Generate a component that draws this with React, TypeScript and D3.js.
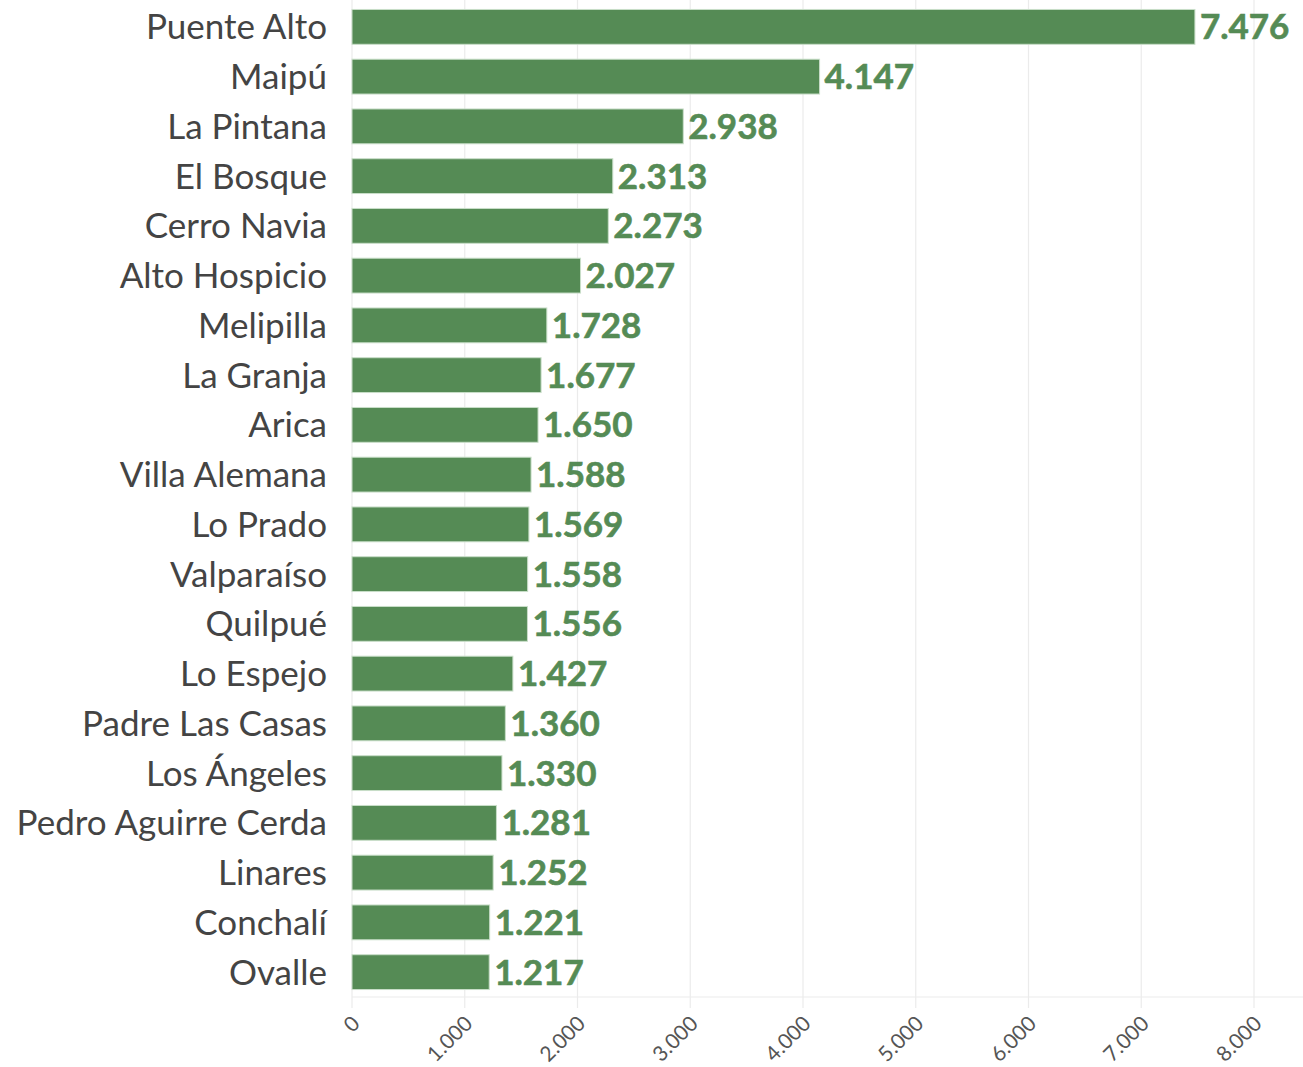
import React from "react";
import * as d3 from "d3";

const categories = [
  "Puente Alto", "Maipú", "La Pintana", "El Bosque", "Cerro Navia", "Alto Hospicio",
  "Melipilla", "La Granja", "Arica", "Villa Alemana", "Lo Prado", "Valparaíso",
  "Quilpué", "Lo Espejo", "Padre Las Casas", "Los Ángeles", "Pedro Aguirre Cerda",
  "Linares", "Conchalí", "Ovalle",
];
const values = [
  7476, 4147, 2938, 2313, 2273, 2027, 1728, 1677, 1650, 1588, 1569, 1558, 1556,
  1427, 1360, 1330, 1281, 1252, 1221, 1217,
];
const tickValues = [0, 1000, 2000, 3000, 4000, 5000, 6000, 7000, 8000];

const W = 1303;
const H = 1067;
const FONT = "Lato, 'Noto Sans', sans-serif";
const GREEN = "#558b55";

const fmt = (v: number) => d3.format(",")(v).replace(/,/g, ".");

export default function App() {
  const x = d3.scaleLinear().domain([0, 8000]).range([352, 1254]);
  const y = d3.scaleBand<string>().domain(categories).range([2, 997]).paddingInner(0.3).paddingOuter(0.15);
  const axisY = 997;
  return (
    <svg width={W} height={H} style={{ position: "absolute", left: 0, top: 0, background: "#fff" }}>
      {tickValues.map((t) => (
        <line key={"g" + t} x1={x(t)} x2={x(t)} y1={0} y2={axisY + 11} stroke="#ebebeb" strokeWidth={1.2} />
      ))}
      <line x1={x(0)} x2={W} y1={axisY} y2={axisY} stroke="#ebebeb" strokeWidth={1.2} />
      {categories.map((c, i) => (
        <g key={c}>
          <rect
            x={x(0)}
            y={y(c)!}
            width={x(values[i]) - x(0)}
            height={y.bandwidth()}
            fill={GREEN}
            stroke="#c9dec9"
            strokeWidth={1}
          />
          <text
            x={x(values[i]) + 5}
            y={y(c)! + y.bandwidth() / 2}
            dy="0.36em"
            fill={GREEN}
            fontFamily={FONT}
            fontWeight={700}
            fontSize={35}
            stroke={GREEN}
            strokeWidth={0.6}
          >
            {fmt(values[i])}
          </text>
          <text
            x={327}
            y={y(c)! + y.bandwidth() / 2}
            dy="0.36em"
            textAnchor="end"
            fill="#444"
            fontFamily={FONT}
            fontSize={35}
          >
            {c}
          </text>
        </g>
      ))}
      {tickValues.map((t) => (
        <text
          key={"t" + t}
          transform={`translate(${x(t) + 9},${axisY + 28}) rotate(-45)`}
          textAnchor="end"
          fill="#555"
          fontFamily={FONT}
          fontSize={21}
        >
          {fmt(t)}
        </text>
      ))}
    </svg>
  );
}
